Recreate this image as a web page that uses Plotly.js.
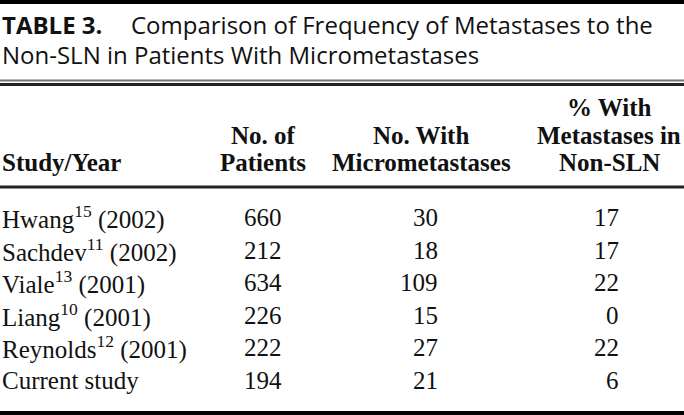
<!DOCTYPE html>
<html><head><meta charset="utf-8">
<script src="https://cdn.plot.ly/plotly-3.0.1.min.js"></script>
<style>html,body{margin:0;padding:0;background:#fff;overflow:hidden}</style>
</head><body><div id="chart" style="width:684px;height:415px"></div>
<script>
// ---- data ----
const tableLabel = "TABLE 3.";
const titleLines = ["Comparison of Frequency of Metastases to the", "Non-SLN in Patients With Micrometastases"];
const headerLines = [
  ["", "", "Study/Year"],
  ["", "No. of", "Patients"],
  ["", "No. With", "Micrometastases"],
  ["% With", "Metastases in", "Non-SLN"]
];
const authors = ["Hwang", "Sachdev", "Viale", "Liang", "Reynolds", "Current study"];
const refNums = ["15", "11", "13", "10", "12", ""];
const years = ["2002", "2002", "2001", "2001", "2001", ""];
const patients = [660, 212, 634, 226, 222, 194];
const withMicromets = [30, 18, 109, 15, 27, 21];
const pctNonSLN = [17, 17, 22, 0, 22, 6];

// ---- layout constants ----
const W = 684, H = 415;
const serif = "Liberation Serif, Times New Roman, serif";
const sans = "Open Sans, Noto Sans, sans-serif";
const ink = "#111";
const bodySize = 25, headSize = 25, titleSize = 24;
const titleBase = [32, 62];
const headBase = [115, 143, 170];
const rowBase0 = 225, rowPitch = 32.6;
const headX = [1, 263, 421, 609];
const headAnchor = ["left", "center", "center", "center"];
const colX = [1, 263, 439, 620];
const colAnchor = ["left", "center", "right", "right"];
const mid = (base, size) => base - 0.3 * size;

const ann = [];
function addText(text, x, y, anchor, size, family) {
  ann.push({text, x, y, xref: "x", yref: "y", xanchor: anchor, yanchor: "middle",
    showarrow: false, font: {family, size, color: ink}, borderpad: 0});
}
// title
addText("<b>" + tableLabel + "</b>", 1, mid(titleBase[0], titleSize), "left", titleSize, sans);
addText(titleLines[0], 130, mid(titleBase[0], titleSize), "left", titleSize, sans);
addText(titleLines[1], 1, mid(titleBase[1], titleSize), "left", titleSize, sans);
// header
headerLines.forEach((lines, c) => lines.forEach((t, r) => {
  if (t) addText("<b>" + t + "</b>", headX[c], mid(headBase[r], headSize), headAnchor[c], headSize, serif);
}));
// rows
authors.forEach((a, i) => {
  const y = mid(rowBase0 + i * rowPitch, bodySize);
  const first = refNums[i] ? a + "<sup>" + refNums[i] + "</sup> (" + years[i] + ")" : a;
  addText(first, colX[0], y, colAnchor[0], bodySize, serif);
  addText(String(patients[i]), colX[1], y, colAnchor[1], bodySize, serif);
  addText(String(withMicromets[i]), colX[2], y, colAnchor[2], bodySize, serif);
  addText(String(pctNonSLN[i]), colX[3], y, colAnchor[3], bodySize, serif);
});

const shapes = [
  {type: "rect", xref: "x", yref: "y", x0: 0, x1: W, y0: 0, y1: 4, line: {width: 0}, fillcolor: "#000"},
  {type: "line", xref: "x", yref: "y", x0: 0, x1: W, y0: 80.5, y1: 80.5, line: {width: 2, color: "#777"}},
  {type: "line", xref: "x", yref: "y", x0: 0, x1: W, y0: 84.5, y1: 84.5, line: {width: 3, color: "#222"}},
  {type: "line", xref: "x", yref: "y", x0: 0, x1: W, y0: 187, y1: 187, line: {width: 3, color: "#222"}},
  {type: "rect", xref: "x", yref: "y", x0: 0, x1: W, y0: 411, y1: 415, line: {width: 0}, fillcolor: "#000"}
];

Plotly.newPlot("chart", [{x: [], y: [], type: "scatter", mode: "markers", hoverinfo: "skip"}], {
  width: W, height: H, margin: {l: 0, r: 0, t: 0, b: 0}, showlegend: false,
  paper_bgcolor: "#fff", plot_bgcolor: "#fff",
  xaxis: {range: [0, W], visible: false, fixedrange: true},
  yaxis: {range: [H, 0], visible: false, fixedrange: true},
  annotations: ann, shapes
}, {staticPlot: true, displayModeBar: false});
</script></body></html>
